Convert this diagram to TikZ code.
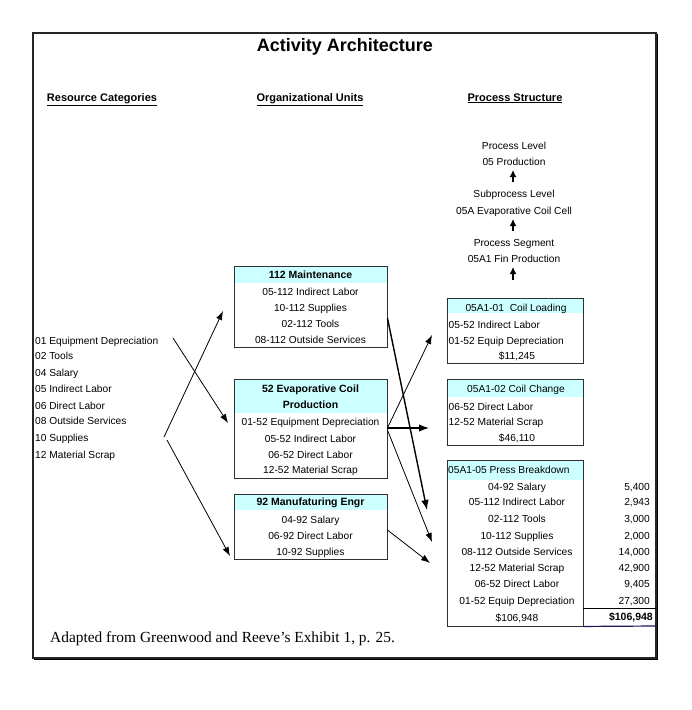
\documentclass[tikz,border=0pt]{standalone}
\usepackage{fontspec}
\setmainfont{Liberation Sans}
\newfontfamily\capfont{Liberation Serif}
\usetikzlibrary{arrows.meta}
\definecolor{hdrcol}{HTML}{CCFFFF}
\definecolor{boxline}{HTML}{303030}
\definecolor{totline}{HTML}{1A1A5A}
\begin{document}
\begin{tikzpicture}[x=1pt,y=-1pt,
  txt/.style={inner sep=0pt, text height=7.3pt, text depth=0pt, font=\fontsize{10.2}{12}\selectfont},
  bld/.style={inner sep=0pt, text height=7.5pt, text depth=0pt, font=\fontsize{10.5}{12}\selectfont\bfseries},
  colhead/.style={inner sep=0pt, text height=8pt, text depth=0pt, font=\fontsize{11}{13}\selectfont\bfseries},
  box/.style={draw=boxline, line width=0.9pt, inner sep=0pt},
  hdr/.style={path picture={\fill[hdrcol] (path picture bounding box.north west) rectangle ([yshift=-#1]path picture bounding box.north east);}},
  arr/.style={-{Latex[length=9pt,width=6.5pt]}, line width=0.8pt},
  arrthick/.style={-{Latex[length=10pt,width=7.5pt]}, line width=1.4pt},
  uparr/.style={-{Latex[length=7pt,width=7pt]}, line width=2pt}
]
\useasboundingbox (0,0) rectangle (692,710);
% frame
\draw[line width=1.6pt, black!85] (33,33) rectangle (656,658);
\draw[line width=1.6pt, black] (657.5,34) -- (657.5,659.5) -- (34,659.5);

% title and column headings
\node[inner sep=0pt, text height=13pt, text depth=0pt, font=\fontsize{18}{20}\selectfont\bfseries] (title) at (345,45) {Activity Architecture};
\node[colhead] (hres) at (102,97) {\underline{Resource Categories}};
\node[colhead] (horg) at (310,97) {\underline{Organizational Units}};
\node[colhead] (hproc) at (515,97) {\underline{Process Structure}};

% resource categories
\node[txt, anchor=west] (r01) at (35,341) {01 Equipment Depreciation};
\node[txt, anchor=west] (r02) at (35,356) {02 Tools};
\node[txt, anchor=west] (r04) at (35,373) {04 Salary};
\node[txt, anchor=west] (r05) at (35,389) {05 Indirect Labor};
\node[txt, anchor=west] (r06) at (35,406) {06 Direct Labor};
\node[txt, anchor=west] (r08) at (35,421) {08 Outside Services};
\node[txt, anchor=west] (r10) at (35,438) {10 Supplies};
\node[txt, anchor=west] (r12) at (35,455) {12 Material Scrap};

% organizational units
\node[box, minimum width=153pt, minimum height=81pt, hdr=17pt] (m1) at (310.5,306.5) {};
\node[bld] (m1h) at (310.5,275) {112 Maintenance};
\node[txt] (m1a) at (310.5,292) {05-112 Indirect Labor};
\node[txt] (m1b) at (310.5,308) {10-112 Supplies};
\node[txt] (m1c) at (310.5,324) {02-112 Tools};
\node[txt] (m1d) at (310.5,340) {08-112 Outside Services};

\node[box, minimum width=153pt, minimum height=99pt, hdr=34pt] (m2) at (310.5,428.5) {};
\node[bld] (m2h1) at (310.5,389) {52 Evaporative Coil};
\node[bld] (m2h2) at (310.5,405) {Production};
\node[txt] (m2a) at (310.5,422) {01-52 Equipment Depreciation};
\node[txt] (m2b) at (310.5,439) {05-52 Indirect Labor};
\node[txt] (m2c) at (310.5,455) {06-52 Direct Labor};
\node[txt] (m2d) at (310.5,470) {12-52 Material Scrap};

\node[box, minimum width=153pt, minimum height=65pt, hdr=16pt] (m3) at (310.5,526.5) {};
\node[bld] (m3h) at (310.5,502) {92 Manufaturing Engr};
\node[txt] (m3a) at (310.5,520) {04-92 Salary};
\node[txt] (m3b) at (310.5,536) {06-92 Direct Labor};
\node[txt] (m3c) at (310.5,552) {10-92 Supplies};

% process hierarchy
\node[txt] (pl1) at (514,146) {Process Level};
\node[txt] (pl2) at (514,162) {05 Production};
\node[txt] (sl1) at (514,194) {Subprocess Level};
\node[txt] (sl2) at (514,211) {05A Evaporative Coil Cell};
\node[txt] (ps1) at (514,243) {Process Segment};
\node[txt] (ps2) at (514,259) {05A1 Fin Production};
\coordinate (u1s) at (513,182); \coordinate (u1e) at (513,170);
\coordinate (u2s) at (513,231); \coordinate (u2e) at (513,219);
\coordinate (u3s) at (513,280); \coordinate (u3e) at (513,267);
\draw[uparr] (u1s) -- (u1e);
\draw[uparr] (u2s) -- (u2e);
\draw[uparr] (u3s) -- (u3e);

% process boxes
\node[box, minimum width=136pt, minimum height=65pt, hdr=15pt] (pA) at (515,330.5) {};
\node[txt] (pAh) at (516,308) {05A1-01 \ Coil Loading};
\node[txt, anchor=west] (pAa) at (448.5,325) {05-52 Indirect Labor};
\node[txt, anchor=west] (pAb) at (448.5,341) {01-52 Equip Depreciation};
\node[txt] (pAt) at (517,356) {\$11,245};

\node[box, minimum width=136pt, minimum height=66pt, hdr=18pt] (pB) at (515,412) {};
\node[txt] (pBh) at (516,389) {05A1-02 Coil Change};
\node[txt, anchor=west] (pBa) at (448.5,407) {06-52 Direct Labor};
\node[txt, anchor=west] (pBb) at (448.5,422) {12-52 Material Scrap};
\node[txt] (pBt) at (517,438) {\$46,110};

\node[box, minimum width=136pt, minimum height=166pt, hdr=20pt] (pC) at (515,543) {};
\node[txt, anchor=west] (pCh) at (448,470) {05A1-05 Press Breakdown};
\node[txt] (pC1) at (517,487) {04-92 Salary};
\node[txt] (pC2) at (517,502) {05-112 Indirect Labor};
\node[txt] (pC3) at (517,519) {02-112 Tools};
\node[txt] (pC4) at (517,536) {10-112 Supplies};
\node[txt] (pC5) at (517,552) {08-112 Outside Services};
\node[txt] (pC6) at (517,568) {12-52 Material Scrap};
\node[txt] (pC7) at (517,584) {06-52 Direct Labor};
\node[txt] (pC8) at (517,601) {01-52 Equip Depreciation};
\node[txt] (pCt) at (517,618) {\$106,948};

\node[txt, anchor=east] (v1) at (650,487) {5,400};
\node[txt, anchor=east] (v2) at (650,502) {2,943};
\node[txt, anchor=east] (v3) at (650,519) {3,000};
\node[txt, anchor=east] (v4) at (650,536) {2,000};
\node[txt, anchor=east] (v5) at (650,552) {14,000};
\node[txt, anchor=east] (v6) at (650,568) {42,900};
\node[txt, anchor=east] (v7) at (650,584) {9,405};
\node[txt, anchor=east] (v8) at (650,601) {27,300};
\node[bld, anchor=east] (vt) at (653,617) {\$106,948};
\draw[line width=0.8pt, black] (pC.east |- 0,608) -- (656,608);
\draw[line width=1.2pt, totline] (pC.south east) -- (656,626);

% connectors: resources -> units
\coordinate (l1s) at (173,338); \coordinate (l1e) at (228,423);
\coordinate (l2s) at (164,437); \coordinate (l2e) at (223,311);
\coordinate (l3s) at (167,440); \coordinate (l3e) at (230,556);
\draw[arr] (l1s) -- (l1e);
\draw[arr] (l2s) -- (l2e);
\draw[arr] (l3s) -- (l3e);

% connectors: units -> process boxes
\coordinate (k1s) at (m1.east |- 0,318); \coordinate (k1e) at (427,510);
\coordinate (k2s) at (m2.east |- 0,428); \coordinate (k2e) at (432,335);
\coordinate (k3e) at (429,428);
\coordinate (k4s) at (m2.east |- 0,430); \coordinate (k4e) at (432,542);
\coordinate (k5s) at (m3.east |- 0,530); \coordinate (k5e) at (430,563);
\draw[arrthick] (k1s) -- (k1e);
\draw[arr] (k2s) -- (k2e);
\draw[arrthick] (k2s) -- (k3e);
\draw[arr] (k4s) -- (k4e);
\draw[arr] (k5s) -- (k5e);

% caption
\node[inner sep=0pt, anchor=west, text height=10.3pt, text depth=0pt, font=\capfont\fontsize{15.4}{17}\selectfont] (cap) at (50,637) {Adapted from Greenwood and Reeve’s Exhibit 1, p. 25.};
\end{tikzpicture}
\end{document}
